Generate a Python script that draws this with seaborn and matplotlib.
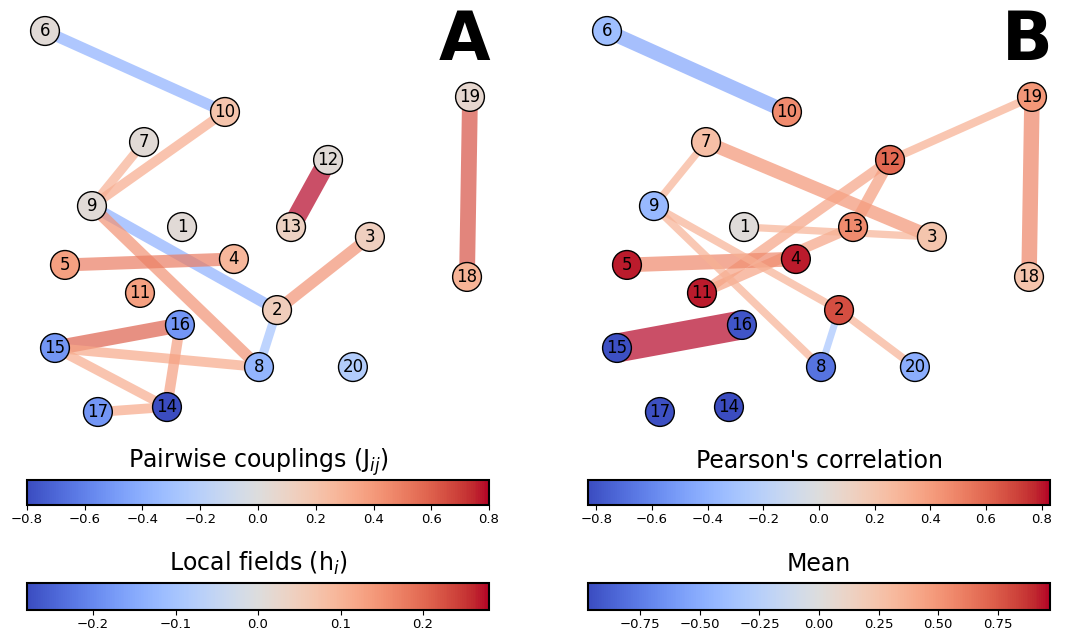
import numpy as np
import pandas as pd
import matplotlib
matplotlib.use("Agg")
import matplotlib.pyplot as plt
import seaborn as sns
from matplotlib.collections import LineCollection
from matplotlib.colors import Normalize
from matplotlib.cm import ScalarMappable

sns.set_theme(style="white")
plt.rcParams['font.family'] = ['DejaVu Sans']
plt.rcParams['text.color'] = 'black'
plt.rcParams['axes.labelcolor'] = 'black'
plt.rcParams['xtick.color'] = 'black'
plt.rcParams['ytick.color'] = 'black'

# ---------------- data ----------------
nodes = list(range(1, 21))
layout_x = [-0.355, 0.092, 0.529, -0.111, -0.906, -1.000, -0.534, 0.007, -0.779, -0.153,
            -0.553, 0.332, 0.158, -0.426, -0.953, -0.365, -0.751, 0.986, 1.000, 0.449]
layout_y = [-0.029, -0.465, -0.081, -0.197, -0.228, 1.000, 0.417, -0.764, 0.081, 0.575,
            -0.375, 0.323, -0.029, -0.974, -0.664, -0.543, -1.000, -0.291, 0.654, -0.764]

local_fields = [0.01, 0.05, 0.045, 0.095, 0.13, 0.01, 0.01, -0.13, 0.01, 0.07,
                0.13, 0.01, 0.04, -0.28, -0.18, -0.18, -0.18, 0.10, 0.02, -0.08]
node_means = [0.02, 0.79, 0.24, 0.93, 0.93, -0.38, 0.28, -0.79, -0.42, 0.55,
              0.93, 0.69, 0.55, -0.97, -0.95, -0.93, -0.95, 0.25, 0.50, -0.50]

coupling_src = [6, 10, 7, 9, 9, 5, 12, 3, 2, 15, 15, 15, 16, 17, 19]
coupling_dst = [10, 9, 9, 2, 8, 4, 13, 2, 8, 16, 8, 14, 14, 14, 18]
coupling_J = [-0.40, 0.33, 0.30, -0.40, 0.43, 0.50, 0.80, 0.43, -0.30, 0.60, 0.34, 0.32, 0.38, 0.34, 0.64]

corr_src = [6, 7, 7, 19, 19, 12, 12, 13, 1, 5, 9, 9, 2, 2, 15]
corr_dst = [10, 9, 3, 12, 18, 11, 13, 11, 3, 4, 8, 2, 20, 8, 16]
corr_r = [-0.47, 0.30, 0.44, 0.32, 0.50, 0.37, 0.40, 0.37, 0.30, 0.48, 0.31, 0.31, 0.31, -0.29, 0.83]

# ---------------- figure ----------------
W, H = 1070, 629
fig = plt.figure(figsize=(W / 100, H / 100), dpi=100)
cmap = plt.get_cmap("coolwarm")

PX_X, PX_Y = 212.5, 190.5   # pixels per layout unit


def draw_network(ax_rect, origin_px, node_vals, src, dst, evals, wfun, letter, letter_px):
    ax = fig.add_axes(ax_rect)
    left_px = ax_rect[0] * W
    right_px = (ax_rect[0] + ax_rect[2]) * W
    top_px = (1 - ax_rect[1] - ax_rect[3]) * H
    bot_px = (1 - ax_rect[1]) * H
    ox, oy = origin_px
    ax.set_xlim(-1 + (left_px - ox) / PX_X, -1 + (right_px - ox) / PX_X)
    ax.set_ylim(1 - (bot_px - oy) / PX_Y, 1 - (top_px - oy) / PX_Y)
    ax.set_axis_off()

    pos = {n: (x, y) for n, x, y in zip(nodes, layout_x, layout_y)}
    evals = np.asarray(evals)
    emax = np.max(np.abs(evals))
    enorm = Normalize(-emax, emax)
    segs = [[pos[a], pos[b]] for a, b in zip(src, dst)]
    lc = LineCollection(segs, colors=cmap(enorm(evals)), linewidths=wfun(np.abs(evals)),
                        alpha=0.7, zorder=1, capstyle="butt")
    ax.add_collection(lc)

    nvals = np.asarray(node_vals)
    nmax = np.max(np.abs(nvals))
    df = pd.DataFrame({"x": layout_x, "y": layout_y, "v": nvals})
    sns.scatterplot(data=df, x="x", y="y", hue="v", palette="coolwarm",
                    hue_norm=(-nmax, nmax), s=430, edgecolor="black", linewidth=1.0,
                    legend=False, ax=ax, zorder=2)
    ax.set_xlabel("")
    ax.set_ylabel("")
    for n in nodes:
        ax.text(pos[n][0], pos[n][1], str(n), ha="center", va="center",
                fontsize=12, color="black", zorder=3)
    ax.text((letter_px[0] - left_px) / (right_px - left_px),
            1 - (letter_px[1] - top_px) / (bot_px - top_px), letter,
            transform=ax.transAxes, ha="center", va="baseline",
            fontsize=48, fontweight="bold", color="black")
    return enorm, Normalize(-nmax, nmax)


normJ, normH = draw_network([0.0, 1 - 440 / H, 0.5, 440 / H], (45, 31), local_fields,
                            coupling_src, coupling_dst, coupling_J,
                            lambda a: (3 + 20 * a) / 1.389, "A", (464, 60))
normR, normM = draw_network([0.5, 1 - 440 / H, 0.5, 440 / H], (607, 31), node_means,
                            corr_src, corr_dst, corr_r,
                            lambda a: np.maximum(41 * a - 5, 5) / 1.389, "B", (1027, 60))


def add_cbar(x0, x1, y0, y1, norm, title, ticks, fmt):
    cax = fig.add_axes([x0 / W, 1 - y1 / H, (x1 - x0) / W, (y1 - y0) / H])
    cb = fig.colorbar(ScalarMappable(norm=norm, cmap=cmap), cax=cax, orientation="horizontal")
    cb.set_ticks(ticks)
    cb.set_ticklabels([fmt.format(t).replace("-", "\u2212") for t in ticks])
    cax.tick_params(labelsize=9.5, length=3.5, width=0.8, pad=2, direction="out",
                    bottom=True, colors="black")
    cb.outline.set_linewidth(1.5)
    cb.outline.set_edgecolor("black")
    cax.set_title(title, fontsize=17, pad=8.5, color="black")
    return cb


add_cbar(27, 489, 480, 505, normJ, r"Pairwise couplings (J$_{ij}$)",
         [-0.8, -0.6, -0.4, -0.2, 0.0, 0.2, 0.4, 0.6, 0.8], "{:.1f}")
add_cbar(27, 489, 583, 610, normH, r"Local fields (h$_{i}$)",
         [-0.2, -0.1, 0.0, 0.1, 0.2], "{:.1f}")
add_cbar(588, 1050, 480, 505, normR, "Pearson's correlation",
         [-0.8, -0.6, -0.4, -0.2, 0.0, 0.2, 0.4, 0.6, 0.8], "{:.1f}")
add_cbar(588, 1050, 583, 610, normM, "Mean",
         [-0.75, -0.5, -0.25, 0.0, 0.25, 0.5, 0.75], "{:.2f}")

fig.savefig("out.png", dpi=100)
